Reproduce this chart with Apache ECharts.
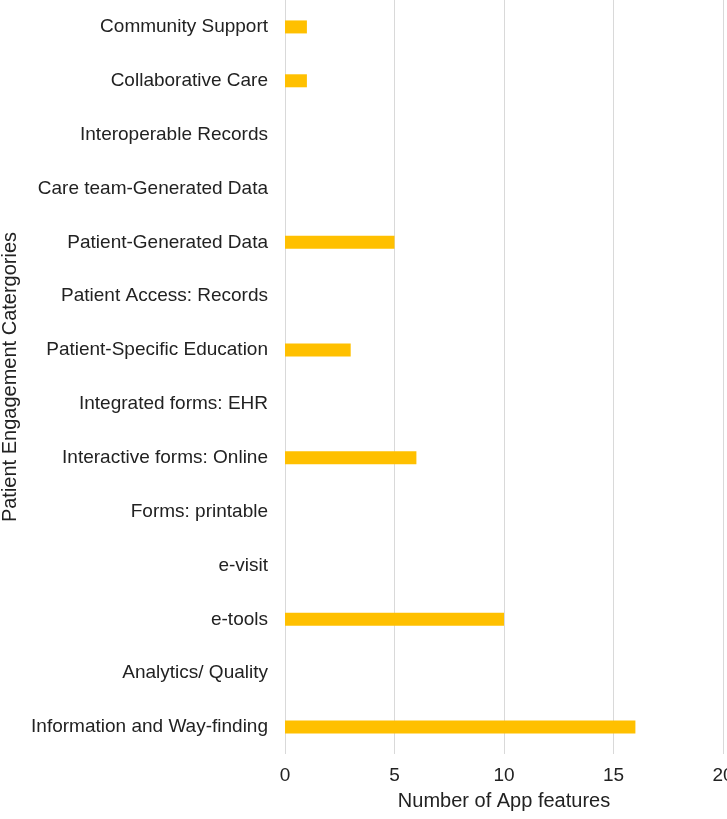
<!DOCTYPE html>
<html>
<head>
<meta charset="utf-8">
<script src="https://cdn.jsdelivr.net/npm/echarts@6/dist/echarts.min.js"></script>
<style>
  html, body { margin: 0; padding: 0; background: #fff; }
  #chart { width: 727px; height: 819px; }
</style>
</head>
<body>
<div id="chart"></div>
<script>
// categories listed bottom -> top (category axis starts at the bottom)
var categories = [
  'Information and Way-finding',
  'Analytics/ Quality',
  'e-tools',
  'e-visit',
  'Forms: printable',
  'Interactive forms: Online',
  'Integrated forms: EHR',
  'Patient-Specific Education',
  'Patient Access: Records',
  'Patient-Generated Data',
  'Care team-Generated Data',
  'Interoperable Records',
  'Collaborative Care',
  'Community Support'
]
var appFeatures = [16, 0, 10, 0, 0, 6, 0, 3, 0, 5, 0, 0, 1, 1]
var xTicks = [0, 5, 10, 15, 20]

var myChart = echarts.init(document.getElementById('chart'))
var font = 'Liberation Sans, Arial, sans-serif'
var option = {
  animation: false,
  grid: {
    left: 285,
    right: 4,
    top: 0,
    bottom: 65,
    outerBoundsMode: 'none'
  },
  xAxis: {
    type: 'value',
    min: xTicks[0],
    max: xTicks[xTicks.length - 1],
    interval: 5,
    name: 'Number of App features',
    nameLocation: 'middle',
    nameGap: 37,
    nameTextStyle: { color: '#222', fontSize: 20, fontFamily: font },
    axisLine: { show: false },
    axisTick: { show: false },
    axisLabel: { color: '#222', fontSize: 19, fontFamily: font, margin: 12 },
    splitLine: { lineStyle: { color: '#d9d9d9' } }
  },
  yAxis: {
    type: 'category',
    data: categories,
    name: 'Patient Engagement Catergories',
    nameLocation: 'middle',
    nameGap: 261,
    nameRotate: 90,
    nameTextStyle: { color: '#222', fontSize: 20, fontFamily: font },
    axisLine: { show: false },
    axisTick: { show: false },
    axisLabel: { color: '#222', fontSize: 19, fontFamily: font, margin: 17 }
  },
  series: [
    {
      type: 'bar',
      data: appFeatures,
      barWidth: 13,
      itemStyle: { color: '#ffc000' }
    }
  ]
}
myChart.setOption(option)
</script>
</body>
</html>
